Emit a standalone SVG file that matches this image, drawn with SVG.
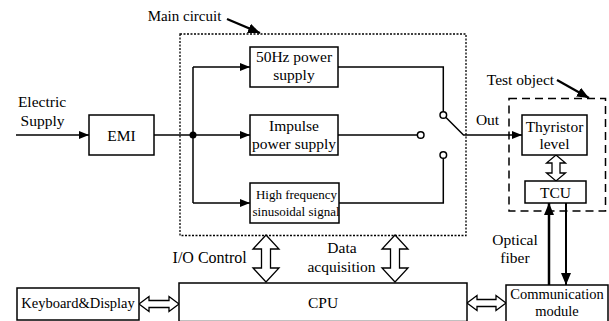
<svg xmlns="http://www.w3.org/2000/svg" width="609" height="321" viewBox="0 0 609 321" font-family="'Liberation Serif', 'Times New Roman', Tinos, 'DejaVu Serif', serif">
<style>
text{font-family:'Liberation Serif','Times New Roman',Tinos,'DejaVu Serif',serif;font-size:15.5px;fill:#000;text-anchor:middle}
.box{fill:#fff;stroke:#000;stroke-width:1.5}
.ln{fill:none;stroke:#000;stroke-width:1.5}
.hol{fill:#fff;stroke:#000;stroke-width:1.3;stroke-linejoin:miter}
.sm{font-size:13px}
</style>
<defs>
<marker id="ah" viewBox="0 0 10 8" refX="10" refY="4" markerWidth="10" markerHeight="8" markerUnits="userSpaceOnUse" orient="auto"><path d="M0,0 L10,4 L0,8 z" fill="#000"/></marker>
<marker id="ahb" viewBox="0 0 12 10" refX="12" refY="5" markerWidth="12" markerHeight="10" markerUnits="userSpaceOnUse" orient="auto"><path d="M0,0 L12,5 L0,10 z" fill="#000"/></marker>
</defs>
<g id="main-circuit">
<rect x="180" y="34" width="286" height="201.5" fill="none" stroke="#000" stroke-width="1.3" stroke-dasharray="2,1.5"/>
<text x="184.5" y="21" style="font-size:15px">Main circuit</text>
</g>
<g id="test-object">
<rect x="509" y="98.5" width="96.5" height="112.5" fill="none" stroke="#000" stroke-width="1.5" stroke-dasharray="8,5"/>
<text x="520.5" y="85">Test object</text>
</g>
<g id="connectors">
<path class="ln" d="M16,135 H89" marker-end="url(#ah)"/>
<path class="ln" d="M154,135 H250" marker-end="url(#ah)"/>
<path class="ln" d="M193,67 V203"/>
<path class="ln" d="M193,67 H250" marker-end="url(#ah)"/>
<path class="ln" d="M193,203 H250" marker-end="url(#ah)"/>
<circle cx="193" cy="135" r="3.5" fill="#000"/>
<path class="ln" d="M338,67 H443.3 V111.7"/>
<path class="ln" d="M338,135 H417.4"/>
<path class="ln" d="M339,203 H443.3 V158.3"/>
<circle cx="443.3" cy="115" r="3.3" fill="#fff" stroke="#000" stroke-width="1.5"/>
<circle cx="420.7" cy="135" r="3.3" fill="#fff" stroke="#000" stroke-width="1.5"/>
<circle cx="443.3" cy="155" r="3.3" fill="#fff" stroke="#000" stroke-width="1.5"/>
<path class="ln" d="M446,117.5 L463.5,135 H522" marker-end="url(#ah)"/>
<path fill="none" stroke="#000" stroke-width="2.2" d="M227,19 L260,33" marker-end="url(#ahb)"/>
<path fill="none" stroke="#000" stroke-width="2.2" d="M557,80 L589,98" marker-end="url(#ahb)"/>
<path fill="none" stroke="#000" stroke-width="2.5" d="M549,285 V203" marker-end="url(#ahb)"/>
<path fill="none" stroke="#000" stroke-width="2" d="M566,203 V285" marker-end="url(#ahb)"/>
<polygon class="hol" points="266,235 279,249 270.5,249 270.5,268 279,268 266,282 253,268 261.5,268 261.5,249 253,249"/>
<polygon class="hol" points="395,235 408,249 399.5,249 399.5,268 408,268 395,282 382,268 390.5,268 390.5,249 382,249"/>
<polygon class="hol" points="556,155 565.5,163 560,163 560,173 565.5,173 556,181 546.5,173 552,173 552,163 546.5,163"/>
<polygon class="hol" points="139,304 149,296.5 149,300.5 169,300.5 169,296.5 179,304 169,311.5 169,307.5 149,307.5 149,311.5"/>
<polygon class="hol" points="467,303 477,295.5 477,299.5 496,299.5 496,295.5 506,303 496,310.5 496,306.5 477,306.5 477,310.5"/>
<text x="42" y="107">Electric</text>
<text x="42.5" y="126">Supply</text>
<text x="487.5" y="125">Out</text>
<text x="515" y="245">Optical</text>
<text x="515" y="263">fiber</text>
<text x="209.7" y="263" style="font-size:16px">I/O Control</text>
<text x="342" y="253">Data</text>
<text x="341.5" y="272">acquisition</text>
</g>
<g id="emi">
<rect class="box" x="89" y="115" width="65" height="40"/>
<text x="121.5" y="141">EMI</text>
</g>
<g id="power50">
<rect class="box" x="250" y="47" width="88" height="40"/>
<text x="294" y="62">50Hz power</text>
<text x="294" y="80">supply</text>
</g>
<g id="impulse">
<rect class="box" x="250" y="115" width="88" height="40"/>
<text x="294" y="131">Impulse</text>
<text x="294" y="149">power supply</text>
</g>
<g id="highfreq">
<rect class="box" x="250" y="183" width="89" height="40"/>
<text class="sm" x="296.5" y="199">High frequency</text>
<text class="sm" x="296" y="216">sinusoidal signal</text>
</g>
<g id="thyristor">
<rect class="box" x="522" y="115" width="65" height="40"/>
<text x="554.5" y="132">Thyristor</text>
<text x="554.5" y="149">level</text>
</g>
<g id="tcu">
<rect class="box" x="525" y="181" width="61" height="22"/>
<text x="555.5" y="198">TCU</text>
</g>
<g id="keyboard">
<rect class="box" x="17" y="288" width="122" height="32"/>
<text x="78" y="308" style="font-size:14.5px">Keyboard&amp;Display</text>
</g>
<g id="cpu">
<rect class="box" x="179" y="283" width="288" height="38.5"/>
<text x="323" y="308">CPU</text>
</g>
<g id="comm">
<rect class="box" x="506" y="285" width="102" height="37"/>
<text x="557" y="298.5" style="font-size:14.5px">Communication</text>
<text x="557" y="316" style="font-size:14.5px">module</text>
</g>
</svg>
